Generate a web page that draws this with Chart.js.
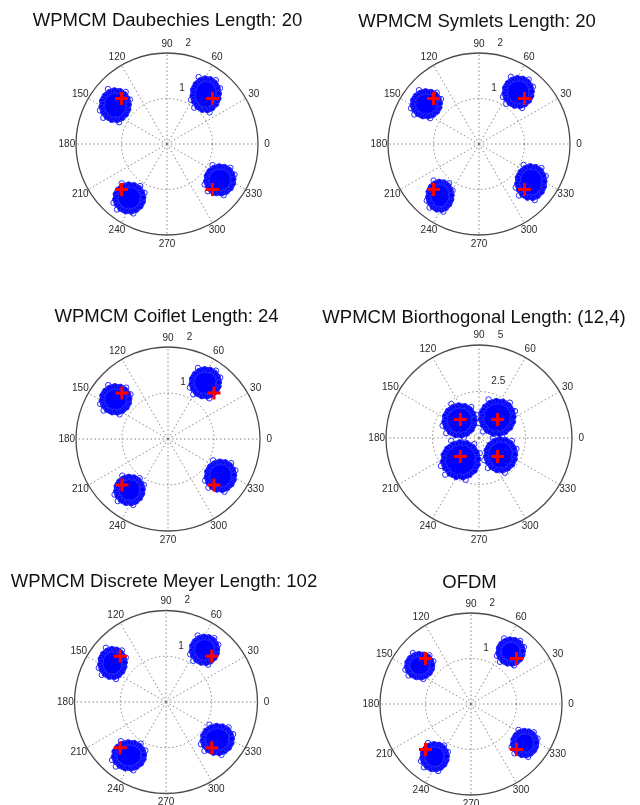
<!DOCTYPE html>
<html>
<head>
<meta charset="utf-8">
<title>WPMCM / OFDM constellations</title>
<script src="https://cdn.jsdelivr.net/npm/chart.js@4.4.1/dist/chart.umd.min.js"></script>
<style>
  html, body { margin: 0; padding: 0; background: #ffffff; width: 640px; height: 805px; overflow: hidden; }
  #stage { position: relative; width: 640px; height: 805px; }
  #stage canvas { position: absolute; }
</style>
</head>
<body>
<div id="stage"></div>
<script>
// ---- data ---------------------------------------------------------------
const titles = [
  'WPMCM Daubechies Length: 20',
  'WPMCM Symlets Length: 20',
  'WPMCM Coiflet Length: 24',
  'WPMCM Biorthogonal Length: (12,4)',
  'WPMCM Discrete Meyer Length: 102',
  'OFDM'
];
const angleTicks = [0, 30, 60, 90, 120, 150, 180, 210, 240, 270, 300, 330];
const ringTicksUnit = [1, 2];
const ringTicksBior = [2.5, 5];

// transmitted QPSK symbols (red +)
const idealSymbols = [[1, 1], [-1, 1], [-1, -1], [1, -1]];

// received symbol clouds: centre of each cloud (I, Q)
const centresDaub  = [[0.85, 1.09], [-1.14, 0.85], [-0.83, -1.19], [1.16, -0.79]];
const centresSym   = [[0.86, 1.14], [-1.16, 0.88], [-0.86, -1.14], [1.14, -0.84]];
const centresCoif  = [[0.81, 1.22], [-1.14, 0.86], [-0.84, -1.11], [1.14, -0.80]];
const centresBior  = [[0.98, 1.10], [-1.05, 0.94], [-0.99, -1.18], [1.16, -0.91]];
const centresMeyer = [[0.84, 1.14], [-1.17, 0.85], [-0.81, -1.17], [1.12, -0.82]];
const centresOfdm  = [[0.87, 1.15], [-1.13, 0.84], [-0.80, -1.16], [1.18, -0.86]];

// half-extent of each cloud along I and Q
const spreadDaub  = [[0.28, 0.34], [0.29, 0.32], [0.30, 0.29], [0.29, 0.29]];
const spreadSym   = [[0.29, 0.30], [0.29, 0.27], [0.25, 0.30], [0.29, 0.34]];
const spreadCoif  = [[0.29, 0.29], [0.29, 0.28], [0.28, 0.28], [0.29, 0.30]];
const spreadBior  = [[0.85, 0.87], [0.79, 0.79], [0.92, 0.92], [0.76, 0.82]];
const spreadMeyer = [[0.27, 0.28], [0.26, 0.30], [0.32, 0.28], [0.31, 0.29]];
const spreadOfdm  = [[0.26, 0.26], [0.27, 0.25], [0.26, 0.27], [0.25, 0.26]];

// outline of a noise cloud, relative to its centre and half-extent
const cloudEdge = [
  [1.02, 0.05], [0.97, 0.27], [0.93, 0.45], [0.80, 0.62], [0.70, 0.77], [0.52, 0.86],
  [0.36, 0.98], [0.15, 0.96], [-0.05, 1.03], [-0.26, 0.95], [-0.45, 0.90], [-0.62, 0.76],
  [-0.78, 0.66], [-0.88, 0.47], [-0.99, 0.30], [-0.96, 0.10], [-1.03, -0.10], [-0.94, -0.30],
  [-0.90, -0.48], [-0.74, -0.62], [-0.64, -0.80], [-0.45, -0.88], [-0.26, -1.00], [-0.05, -0.95],
  [0.14, -1.02], [0.34, -0.93], [0.52, -0.88], [0.66, -0.72], [0.82, -0.62], [0.90, -0.42],
  [1.00, -0.26], [0.96, -0.08], [1.02, 0.05]
];
// a few outlying received symbols around each cloud
const cloudStrays = [[1.12, 0.40], [-0.55, 1.12], [-1.15, -0.35], [0.30, -1.16], [0.80, 0.92], [-0.90, -0.86]];

// ---- layout -------------------------------------------------------------
const CANVAS_W = 320, CANVAS_H = 270;
const panels = [
  { title: titles[0], rings: ringTicksUnit, centres: centresDaub,  spreads: spreadDaub,  cx: 167,   cy: 144, R: 91,   tdx: 0.5, tdy: -123 },
  { title: titles[1], rings: ringTicksUnit, centres: centresSym,   spreads: spreadSym,   cx: 479,   cy: 144, R: 91,   tdx: -2,  tdy: -122 },
  { title: titles[2], rings: ringTicksUnit, centres: centresCoif,  spreads: spreadCoif,  cx: 168,   cy: 439, R: 92,   tdx: -1.5, tdy: -122 },
  { title: titles[3], rings: ringTicksBior, centres: centresBior,  spreads: spreadBior,  cx: 479,   cy: 438, R: 93,   tdx: -5,  tdy: -120 },
  { title: titles[4], rings: ringTicksUnit, centres: centresMeyer, spreads: spreadMeyer, cx: 166,   cy: 702, R: 91.5, tdx: -2,  tdy: -120 },
  { title: titles[5], rings: ringTicksUnit, centres: centresOfdm,  spreads: spreadOfdm,  cx: 470.5, cy: 704, R: 91,   tdx: -1.5, tdy: -121 }
];

Chart.defaults.font.family = '"Liberation Sans", Arial, Helvetica, sans-serif';

// MATLAB-style polar grid drawn from the chart's x/y scales
const polarGrid = {
  id: 'polarGrid',
  beforeDatasetsDraw(chart, args, opts) {
    const { ctx } = chart;
    const xs = chart.scales.x, ys = chart.scales.y;
    const P = (vx, vy) => [xs.getPixelForValue(vx), ys.getPixelForValue(vy)];
    const rings = opts.rings;
    const rMax = rings[rings.length - 1];
    const [cx, cy] = P(0, 0);
    const ringPx = v => xs.getPixelForValue(v) - cx;
    const rad = a => a * Math.PI / 180;

    ctx.save();
    // dotted spokes every 30 degrees
    ctx.strokeStyle = '#7c7c7c';
    ctx.lineWidth = 0.9;
    ctx.setLineDash([1.5, 2.5]);
    angleTicks.forEach(a => {
      const [ex, ey] = P(rMax * Math.cos(rad(a)), rMax * Math.sin(rad(a)));
      ctx.beginPath();
      ctx.moveTo(cx, cy);
      ctx.lineTo(ex, ey);
      ctx.stroke();
    });
    // dotted inner rings
    rings.slice(0, -1).forEach(v => {
      ctx.beginPath();
      ctx.arc(cx, cy, ringPx(v), 0, Math.PI * 2);
      ctx.stroke();
    });
    // solid outer ring
    ctx.setLineDash([]);
    ctx.strokeStyle = '#4a4a4a';
    ctx.lineWidth = 1.3;
    ctx.beginPath();
    ctx.arc(cx, cy, ringPx(rMax), 0, Math.PI * 2);
    ctx.stroke();

    // angle labels
    ctx.fillStyle = '#2a2a2a';
    ctx.font = '10px "Liberation Sans", Arial, sans-serif';
    ctx.textAlign = 'center';
    ctx.textBaseline = 'middle';
    angleTicks.forEach(a => {
      const [lx, ly] = P(1.1 * rMax * Math.cos(rad(a)), 1.1 * rMax * Math.sin(rad(a)));
      ctx.fillText(String(a), lx, ly);
    });
    // ring labels along the 82 degree ray
    const inc = rings[0];
    ctx.textAlign = 'left';
    rings.forEach(v => {
      const r = v + inc / 20;
      const [lx, ly] = P(r * Math.cos(rad(82)), r * Math.sin(rad(82)));
      ctx.fillText('  ' + String(v), lx, ly - 8.5);
    });

    // panel title
    ctx.fillStyle = '#111111';
    ctx.font = '18.5px "Liberation Sans", Arial, sans-serif';
    ctx.textAlign = 'center';
    ctx.fillText(opts.title, cx + opts.tdx, cy + opts.tdy);
    ctx.restore();
  }
};

const stage = document.getElementById('stage');

panels.forEach((p) => {
  const cv = document.createElement('canvas');
  cv.width = CANVAS_W;
  cv.height = CANVAS_H;
  cv.style.left = (p.cx - CANVAS_W / 2) + 'px';
  cv.style.top = (p.cy - CANVAS_H / 2) + 'px';
  stage.appendChild(cv);

  const rMax = p.rings[p.rings.length - 1];
  const lx = rMax * (CANVAS_W / 2) / p.R;
  const ly = rMax * (CANVAS_H / 2) / p.R;

  const blue = '#0000ff';
  const ring = '#2a2aff';

  const clouds = p.centres.map((c, i) => ({
    label: 'received ' + (i + 1),
    data: cloudEdge.map(([u, v]) => ({ x: c[0] + u * p.spreads[i][0], y: c[1] + v * p.spreads[i][1] })),
    showLine: true,
    fill: 'shape',
    tension: 0,
    backgroundColor: blue,
    borderColor: blue,
    borderWidth: 1,
    pointStyle: 'circle',
    pointRadius: 2.7,
    pointBorderWidth: 1,
    pointBorderColor: ring,
    pointBackgroundColor: blue,
    order: 1
  }));

  const strays = p.centres.map((c, i) => ({
    label: 'outliers ' + (i + 1),
    data: cloudStrays.map(([u, v]) => ({ x: c[0] + u * p.spreads[i][0], y: c[1] + v * p.spreads[i][1] })),
    showLine: false,
    pointStyle: 'circle',
    pointRadius: 2.7,
    pointBorderWidth: 1,
    pointBorderColor: ring,
    pointBackgroundColor: 'rgba(0,0,255,0)',
    order: 1
  }));

  new Chart(cv, {
    type: 'scatter',
    data: {
      datasets: [
        {
          label: 'transmitted',
          data: idealSymbols.map(([x, y]) => ({ x, y })),
          pointStyle: 'cross',
          pointRadius: 6.5,
          pointBorderWidth: 3,
          pointBorderColor: '#ff0000',
          pointBackgroundColor: '#ff0000',
          borderColor: '#ff0000',
          order: 0
        },
        ...clouds,
        ...strays
      ]
    },
    options: {
      responsive: false,
      animation: false,
      events: [],
      layout: { padding: 0, autoPadding: false },
      scales: {
        x: { type: 'linear', display: false, min: -lx, max: lx },
        y: { type: 'linear', display: false, min: -ly, max: ly }
      },
      plugins: {
        legend: { display: false },
        tooltip: { enabled: false },
        polarGrid: { rings: p.rings, title: p.title, tdx: p.tdx, tdy: p.tdy }
      }
    },
    plugins: [polarGrid]
  });
});
</script>
</body>
</html>
